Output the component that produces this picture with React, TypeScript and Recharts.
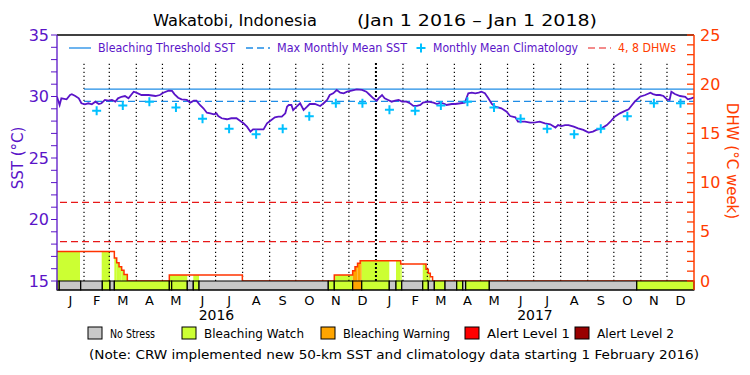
import React from 'react';
import { ComposedChart, Line, Scatter, XAxis, YAxis, ReferenceArea, ReferenceLine } from 'recharts';

// days are counted from Jan 1 2016
const monthStarts = [0, 31, 60, 91, 121, 152, 182, 213, 244, 274, 305, 335, 366, 397, 425, 456, 486, 517, 547, 578, 609, 639, 670, 700, 731];
const monthLetters = ['J', 'F', 'M', 'A', 'M', 'J', 'J', 'A', 'S', 'O', 'N', 'D'];
const years = ['2016', '2017'];

// daily SST (°C)
const sstDays = [
  0, 3, 5, 11, 15, 17, 21, 25, 28, 32, 36, 40, 44, 48, 51, 55, 59, 63, 67, 70, 74, 78, 82, 88, 91, 97, 105, 113, 118, 122,
  128, 132, 135, 139, 143, 149, 153, 157, 160, 164, 168, 172, 176, 180, 183, 185, 189, 195, 200, 206, 210, 214, 218, 222, 225, 231, 237, 241, 246, 250,
  254, 258, 262, 264, 266, 269, 271, 275, 279, 283, 287, 290, 296, 302, 306, 310, 313, 317, 321, 325, 329, 333, 338, 344, 350, 355, 359, 363, 367, 369,
  373, 376, 380, 384, 388, 392, 396, 401, 405, 409, 413, 417, 420, 426, 432, 436, 440, 445, 447, 453, 457, 463, 468, 472, 476, 480, 484, 487, 491, 495,
  499, 503, 506, 510, 516, 520, 526, 529, 537, 543, 549, 554, 560, 566, 572, 575, 579, 583, 587, 593, 598, 604, 610, 615, 619, 625, 631, 635, 640, 646,
  650, 656, 659, 663, 669, 675, 681, 684, 688, 692, 696, 700, 703, 705, 709, 715, 721, 724, 728, 731,
];
const sstValues = [
  29.98, 29.31, 29.85, 29.77, 30.12, 30.18, 30.04, 29.85, 29.45, 29.37, 29.45, 29.37, 29.58, 29.39, 29.45, 29.72, 29.66, 29.72, 29.58, 29.85, 29.98, 30.04, 29.85, 30.39, 30.31, 30.12, 30.12, 30.04, 30.12, 30.31,
  30.47, 30.45, 30.18, 29.9, 29.77, 29.72, 29.5, 29.66, 29.66, 29.31, 29.04, 28.68, 28.63, 28.55, 28.63, 28.41, 28.23, 28.15, 28.23, 28.23, 28.03, 27.82, 27.55, 27.14, 27.33, 27.33, 27.33, 27.82, 28.09, 28.31,
  28.36, 28.36, 28.63, 29.17, 29.31, 29.31, 28.9, 29.17, 29.45, 28.9, 29.17, 29.39, 29.39, 29.23, 29.45, 29.72, 30.12, 30.26, 30.53, 30.31, 30.26, 30.39, 30.47, 30.58, 30.53, 30.39, 30.12, 29.85, 29.66, 29.85,
  30.12, 29.85, 29.72, 29.58, 29.66, 29.72, 29.58, 29.58, 29.45, 29.23, 29.23, 29.31, 29.5, 29.58, 29.5, 29.39, 29.5, 29.39, 29.31, 29.39, 29.39, 29.45, 29.5, 30.26, 30.31, 30.26, 30.31, 30.39, 30.26, 29.85,
  29.39, 29.17, 29.12, 29.04, 28.77, 28.41, 28.31, 27.95, 27.95, 27.87, 27.9, 27.95, 27.82, 27.74, 27.47, 27.68, 27.6, 27.68, 27.68, 27.55, 27.41, 27.28, 27.06, 27.14, 27.28, 27.41, 27.68, 27.95, 28.36, 28.63,
  28.77, 28.96, 29.23, 29.58, 29.98, 30.12, 30.31, 30.2, 30.12, 30.12, 30.04, 29.77, 29.72, 30.39, 30.2, 30.04, 29.98, 29.77, 29.85, 29.93,
];

// monthly mean climatology, Jan..Dec
const climatology = [28.93, 28.85, 29.27, 29.57, 29.1, 28.2, 27.38, 26.93, 27.38, 28.39, 29.45, 29.45];
const mmm = 29.6;
const bleachingThreshold = 30.6;
const newDataStart = 31; // 1 Feb 2016
const dhwLevels = [4, 8];

// degree heating weeks, stepped
const dhwDays = [0, 65.8, 68.5, 71.2, 74.2, 76.9, 80.7, 128.9, 212.7, 318.2, 339.3, 342, 344.9, 347.9, 394.4, 423.5, 426.1, 428.4, 431, 731];
const dhwValues = [3.0, 2.35, 1.85, 1.45, 1.1, 0.65, 0, 0.61, 0, 0.61, 1.05, 1.45, 1.8, 2.07, 1.73, 1.19, 0.78, 0.44, 0, 0];

// coloured fill under the DHW curve
const fillStart = [0, 51.3, 65.8, 128.9, 156.4, 318.2, 339.3, 349.7, 389, 419.7];
const fillEnd = [26.4, 60.8, 80.7, 149.5, 163, 339.3, 349.7, 381.3, 395.6, 428.4];
const fillLevel = [1, 1, 1, 1, 1, 1, 2, 1, 1, 1];

// daily stress band along the bottom
const bandEdges = [0, 2.6, 27.2, 52, 60.8, 65.8, 128.9, 131.6, 149.5, 156.4, 163, 311.3, 318.2, 339.3, 349.7, 381.3, 389, 395.6, 419.7, 426.1, 433, 445.3, 458.7, 465.6, 469, 496.1, 665.3, 731];
const bandLevels = [1, 0, 0, 1, 0, 1, 1, 1, 0, 1, 0, 1, 1, 2, 1, 0, 1, 0, 1, 0, 1, 0, 1, 0, 1, 0, 1];

const levelNames = ['No Stress', 'Bleaching Watch', 'Bleaching Warning', 'Alert Level 1', 'Alert Level 2'];
const levelColors = ['#c8c8c8', '#ccff33', '#ffa500', '#ff0000', '#990000'];

const PURPLE = '#5a14c8';
const ORANGE = '#ff3c00';
const BLUE = '#1e8ce6';
const CYAN = '#00c0ff';
const FONT = '"DejaVu Sans", sans-serif';

const SST_MIN = 15 - 9 / 12.3; // band sits below 15 °C
const DHW_MIN = -9 / 9.84;
const DOT_TOP = 32.72;

const sstData = sstDays.map((day, i) => ({ day, sst: sstValues[i] }));
const dhwData = dhwDays.map((day, i) => ({ day, dhw: dhwValues[i] }));
const monthTicks = monthStarts.slice(0, -1).map((s, i) => (s + monthStarts[i + 1]) / 2);
const yearTicks = [(0 + 366) / 2, (366 + 731) / 2];
const climData = monthTicks.slice(1).map((day, i) => ({ day, clim: climatology[(i + 1) % 12] }));
const mmmData = [{ day: newDataStart, v: mmm }, { day: 731, v: mmm }];
const thresholdData = [{ day: newDataStart, v: bleachingThreshold }, { day: 731, v: bleachingThreshold }];

const fillRects: { x1: number; x2: number; y: number; level: number }[] = [];
fillStart.forEach((s, i) => {
  for (let j = 0; j < dhwDays.length - 1; j++) {
    const a = Math.max(s, dhwDays[j]);
    const b = Math.min(fillEnd[i], dhwDays[j + 1]);
    if (b > a && dhwValues[j] > 0) fillRects.push({ x1: a, x2: b, y: dhwValues[j], level: fillLevel[i] });
  }
});

const Plus = (props: any) => {
  const { cx, cy } = props;
  if (cx == null || cy == null) return null;
  return <path d={`M${cx - 4.5},${cy}H${cx + 4.5}M${cx},${cy - 4.5}V${cy + 4.5}`} stroke={CYAN} strokeWidth={2} fill="none" />;
};

const sstTicks = Array.from({ length: 21 }, (_, i) => 15 + i);
const dhwTicks = Array.from({ length: 26 }, (_, i) => i);
const everyFifth = (v: number) => (v % 5 === 0 ? String(v) : '');

const legendX = [88, 182, 321, 465, 575];
const legendTextW = [45, 100, 107, 83, 77];

export default function App() {
  return (
    <div style={{ position: 'absolute', left: 0, top: 0, width: 750, height: 375, background: '#fff' }}>
      <ComposedChart width={750} height={375} margin={{ top: 35, right: 8, left: 8, bottom: 41 }}>
        <XAxis
          type="number"
          dataKey="day"
          domain={[0, 731]}
          allowDataOverflow
          ticks={monthTicks}
          interval={0}
          tickFormatter={(v) => monthLetters[monthTicks.indexOf(v) % 12]}
          tickLine={false}
          tickSize={0}
          tickMargin={6}
          height={14}
          axisLine={{ stroke: '#000' }}
          tick={{ fill: '#000', fontSize: 13, fontFamily: FONT }}
        />
        <XAxis
          xAxisId="year"
          type="number"
          dataKey="day"
          domain={[0, 731]}
          allowDataOverflow
          ticks={yearTicks}
          interval={0}
          tickFormatter={(v) => years[yearTicks.indexOf(v)]}
          tickLine={false}
          tickSize={0}
          tickMargin={6}
          height={30}
          axisLine={false}
          tick={{ fill: '#000', fontSize: 14, fontFamily: FONT }}
        />
        <YAxis
          yAxisId="sst"
          type="number"
          domain={[SST_MIN, 35]}
          allowDataOverflow
          ticks={sstTicks}
          interval={0}
          tickFormatter={everyFifth}
          width={49}
          tickSize={6}
          tickMargin={2}
          axisLine={{ stroke: PURPLE, strokeWidth: 1.3 }}
          tickLine={{ stroke: PURPLE }}
          tick={{ fill: PURPLE, fontSize: 16, fontFamily: FONT }}
        />
        <YAxis
          yAxisId="dhw"
          orientation="right"
          type="number"
          domain={[DHW_MIN, 25]}
          allowDataOverflow
          ticks={dhwTicks}
          interval={0}
          tickFormatter={everyFifth}
          width={48}
          tickSize={-7}
          tickMargin={13}
          axisLine={{ stroke: ORANGE, strokeWidth: 1.5 }}
          tickLine={{ stroke: ORANGE, strokeWidth: 1.3 }}
          tick={{ fill: ORANGE, fontSize: 16, fontFamily: FONT }}
        />

        {fillRects.map((r, i) => (
          <ReferenceArea key={`f${i}`} yAxisId="dhw" x1={r.x1} x2={r.x2} y1={0} y2={r.y} fill={levelColors[r.level]} fillOpacity={1} stroke="none" zIndex={100} />
        ))}

        {monthStarts.slice(1, -1).map((d) => (
          <ReferenceLine
            key={`m${d}`}
            yAxisId="sst"
            segment={[{ x: d, y: 15 }, { x: d, y: DOT_TOP }]}
            stroke="#000"
            strokeWidth={d === 366 ? 2 : 1.2}
            strokeDasharray={d === 366 ? '2 2' : '1.2 2.8'}
            zIndex={150}
          />
        ))}

        {dhwLevels.map((v) => (
          <ReferenceLine key={`d${v}`} yAxisId="dhw" y={v} stroke="#e81818" strokeWidth={1.2} strokeDasharray="7 4" zIndex={160} />
        ))}
        <ReferenceLine yAxisId="sst" y={35} stroke="#000" strokeWidth={1.3} zIndex={160} />

        <Line data={thresholdData} yAxisId="sst" dataKey="v" stroke={BLUE} strokeWidth={1.3} dot={false} isAnimationActive={false} />
        <Line data={mmmData} yAxisId="sst" dataKey="v" stroke={BLUE} strokeWidth={1.3} strokeDasharray="7 4" dot={false} isAnimationActive={false} />
        <Line data={dhwData} yAxisId="dhw" dataKey="dhw" type="stepAfter" stroke="#ff3300" strokeWidth={1.5} dot={false} isAnimationActive={false} />
        <Line data={sstData} yAxisId="sst" dataKey="sst" stroke={PURPLE} strokeWidth={1.8} dot={false} isAnimationActive={false} />
        <Scatter data={climData} yAxisId="sst" dataKey="clim" shape={<Plus />} isAnimationActive={false} />

        {bandEdges.slice(0, -1).map((s, i) => (
          <ReferenceArea key={`b${i}`} yAxisId="sst" x1={s} x2={bandEdges[i + 1]} y1={SST_MIN} y2={15} fill={levelColors[bandLevels[i]]} fillOpacity={1} stroke="#000" strokeWidth={1.2} zIndex={450} />
        ))}
      </ComposedChart>

      <svg width={750} height={375} style={{ position: 'absolute', left: 0, top: 0, pointerEvents: 'none' }} fontFamily={FONT}>
        <text x={153} y={26} fontSize={16} fill="#000" textLength={164} lengthAdjust="spacingAndGlyphs">Wakatobi, Indonesia</text>
        <text x={357} y={26} fontSize={16} fill="#000" textLength={240} lengthAdjust="spacingAndGlyphs">(Jan 1 2016 – Jan 1 2018)</text>

        <line x1={69} x2={91} y1={48} y2={48} stroke={BLUE} strokeWidth={1.3} />
        <text x={98} y={52} fontSize={12} fill={PURPLE} textLength={137} lengthAdjust="spacingAndGlyphs">Bleaching Threshold SST</text>
        <line x1={246} x2={270} y1={48} y2={48} stroke={BLUE} strokeWidth={1.3} strokeDasharray="7 4" />
        <text x={277} y={52} fontSize={12} fill={PURPLE} textLength={130} lengthAdjust="spacingAndGlyphs">Max Monthly Mean SST</text>
        <Plus cx={421} cy={48} />
        <text x={433} y={52} fontSize={12} fill={PURPLE} textLength={145} lengthAdjust="spacingAndGlyphs">Monthly Mean Climatology</text>
        <line x1={588} x2={611} y1={48} y2={48} stroke="#e81818" strokeWidth={1.2} strokeDasharray="7 4" />
        <text x={618} y={52} fontSize={12} fill={ORANGE} textLength={58} lengthAdjust="spacingAndGlyphs">4, 8 DHWs</text>

        <text transform="translate(23,158) rotate(-90)" textAnchor="middle" fontSize={15} fill={PURPLE}>SST (°C)</text>
        <text transform="translate(727,161) rotate(90)" textAnchor="middle" fontSize={15} fill={ORANGE}>DHW (°C week)</text>

        {levelNames.map((name, i) => (
          <g key={name}>
            <rect x={legendX[i]} y={327} width={14} height={12} fill={levelColors[i]} stroke="#000" strokeWidth={1} />
            <text x={legendX[i] + 22} y={338} fontSize={12} fill="#000" textLength={legendTextW[i]} lengthAdjust="spacingAndGlyphs">{name}</text>
          </g>
        ))}
        <text x={89} y={359} fontSize={13} fill="#000" textLength={610} lengthAdjust="spacingAndGlyphs">(Note: CRW implemented new 50-km SST and climatology data starting 1 February 2016)</text>
      </svg>
    </div>
  );
}
